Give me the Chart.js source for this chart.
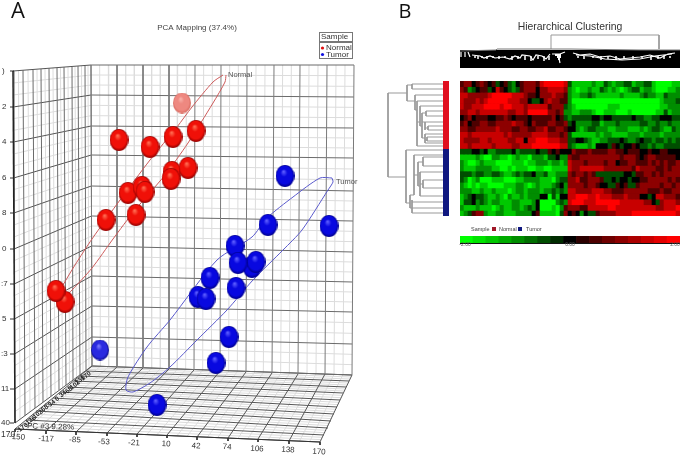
<!DOCTYPE html>
<html><head><meta charset="utf-8">
<script src="https://cdn.jsdelivr.net/npm/chart.js@4"></script>
<style>
html,body{margin:0;padding:0;background:#fff;width:689px;height:459px;overflow:hidden}
canvas{position:absolute;display:block}
#pca{left:0;top:0;filter:blur(0.3px)}
#heat{left:460px;top:81px;filter:blur(0.6px)}
#bar{left:460px;top:236px}
#right{left:380px;top:0}
</style></head><body>
<canvas id="pca" width="380" height="459"></canvas>
<canvas id="heat" width="220" height="135"></canvas>
<canvas id="bar" width="220" height="7"></canvas>
<canvas id="right" width="309" height="459"></canvas>
<script>
/* ---------- Panel A: PCA samples ---------- */
const normalX=[182,128,119,150,172,173,196,188,171,142,145,136,106,65,56];
const normalY=[103,193,140,147,172,137,131,168,179,187,192,215,220,302,291];
const tumorX=[100,157,216,229,198,206,236,210,235,252,256,238,268,329,285];
const tumorY=[350,405,363,337,297,299,288,278,246,267,262,263,225,226,176];
const normalRingX=[223,213,192,177,150,120,92,75,63,56,60,72,92,113,135,165,188,213,225,226];
const normalRingY=[75,82,107,127,160,200,239,265,285,298,301,290,268,239,210,175,143,103,82,75];
const tumorRingX=[332,320,293,267,252,217,170,147,128,126,133,150,170,197,227,253,283,302,328,333,332];
const tumorRingY=[178,178,197,218,237,260,320,347,377,390,392,383,367,340,310,280,250,230,190,182,178];

/* ---------- Panel A: frame of the 3D box ---------- */
const backTopX=[91,117,143,169,195,221,247,274,300,327,354];
const backBotX=[92,117,143,169,194,220,246,272,298,325,352];
const backBotY=[366,367,368,369,370,371,372,373,374,374,375];
const backLeftY=[65,95,126,155,186,216,246,276,306,337,366];
const backRightY=[65,97,128,158,191,221,252,282,312,344,375];
const sideTopX=[14,23,33,41,49,57,64,72,78,85,91];
const sideTopY=[71,70,70,69,68,68,67,67,66,66,65];
const sideBotX=[15,25,35,43,51,59,66,73,80,86,92];
const sideBotY=[423,416,408,402,396,390,385,380,375,370,366];
const sideLeftY=[71,107,142,178,213,249,284,319,354,389,423];
const floorFrontX=[15,46,76,107,137,167,197,228,258,289,320];
const floorFrontY=[429,431,432,433,434,435,437,438,439,441,442];
const floorLeftX=[92,86,80,74,67,60,53,45,36,26,15];
const floorLeftY=[366,371,376,381,387,392,398,404,411,420,429];
const floorRightX=[352,349,346,343,340,337,334,331,328,324,320];
const floorRightY=[375,381,387,393,400,407,414,421,428,435,442];

const xTickLabels=['-150','-117','-85','-53','-21','10','42','74','106','138','170'];
const xTickLabelX=[17,46,75,104,134,166,196,227,257,288,319];
const xTickLabelY=[437,439,440,442,443,444,446,447,449,450,452];
const yTickLabels=[')','2','4','6','8','0',':7','5',':3','11','40'];
const depthLabels=['-170','-136','-102','-68','-34','0','34','68','102','136','170'];
const depthX=[22,30,37,44,51,57,63,69,75,80,86];
const depthY=[428,421,415,409,404,399,394,390,385,380,376];

/* ---------- Panel B: heat map (digit d = value -2 + d/2), rows by samples ---------- */
const heatRows=[
"56645 65453 45324 56665 78888 87 31111 12113 21223 31223 31000 011",
"65234 55347 54323 56664 66777 76 21011 21132 12101 23312 21000 112",
"77666 66788 88877 76554 66676 65 21122 32111 11121 11123 22113 222",
"76667 67888 88777 66433 46766 55 20000 00000 00000 00000 00012 223",
"76677 78888 78877 76777 77566 63 21000 00000 11100 00000 00011 222",
"66776 77777 77667 76888 88665 62 21122 21001 11000 10000 00113 122",
"45645 55445 56545 55455 55564 53 23333 34434 43333 34332 23344 433",
"56455 66556 66676 65465 55665 56 34222 23312 22322 22233 22322 322",
"66556 66667 66655 66556 67556 65 44212 33222 11222 11121 23321 132",
"77677 77777 76766 66677 77666 56 31111 11212 21111 22212 22212 222",
"76666 77677 77667 74778 88777 66 33443 21122 33343 22343 32332 323",
"77677 77767 77766 77788 88888 77 32111 21444 35434 45433 23223 333",
"33344 34223 33342 33334 33545 44 46555 65555 66554 55544 54455 444",
"11112 10022 11012 11022 21334 22 65566 66666 66656 66545 66555 554",
"21001 21110 00011 10112 22122 12 76665 66665 66455 66555 65656 556",
"21112 22211 00101 11001 10011 11 76677 77776 66666 65766 66556 566",
"33323 32233 21123 23342 23112 22 65665 65333 33334 43556 65656 666",
"32012 00011 10001 12222 11102 33 66755 66653 34344 34455 66666 565",
"21010 11000 01112 21012 11123 42 66665 66544 33545 33566 66656 656",
"22211 21121 11012 21222 12232 32 77666 67776 65556 66666 55565 566",
"12343 32112 10211 21222 44031 44 77888 77877 76667 66644 34776 665",
"13342 32122 11122 11124 00002 32 78887 77888 88877 77776 64367 776",
"21112 11101 21122 12324 00010 25 66655 77777 88777 77777 77667 778",
"12356 62112 21112 22245 11110 36 45424 33566 66777 78888 88888 887"
];
const colorbarValues=[-2,-1.75,-1.5,-1.25,-1,-0.75,-0.5,-0.25,0,0.25,0.5,0.75,1,1.25,1.5,1.75,2];

/* ---------- Panel B: dendrograms ---------- */
const sideTreeX=[407,388,388,406,null,412,407,407,415,null,443,412,412,443,null,443,415,415,417,null,443,417,417,443,null,417,420,null,443,420,420,422,null,422,422,null,422,426,null,443,426,426,443,null,422,425,null,425,425,null,443,425,null,425,428,null,443,428,428,443,null,422,425,null,443,425,425,443,null,425,427,null,443,427,427,443];
const sideTreeY=[93,93,177,177,null,85,85,101,101,null,84,84,89,89,null,95,95,110,110,null,101,101,146,146,null,122,122,null,106,106,126,126,null,113,138,null,113,113,null,111,111,116,116,null,122,122,null,122,130,null,122,122,null,128,128,null,126,126,130,130,null,138,138,null,134,134,143,143,null,140,140,null,137,137,141,141];
const tumorTreeX=[443,406,406,410,null,443,414,414,410,410,443,null,414,418,null,418,418,null,418,423,null,443,423,423,443,null,418,420,null,420,420,null,443,420,null,420,423,null,443,423,423,443,null,420,443,null,412,412,null,412,443,null,412,443];
const tumorTreeY=[150,150,203,203,null,155,155,195,195,208,208,null,175,175,null,162,186,null,162,162,null,157,157,166,166,null,186,186,null,172,196,null,172,172,null,184,184,null,180,180,188,188,null,196,196,null,200,213,null,202,202,null,213,213];
const topTreeX=[551,551,659,659];
const topTreeY=[49,35,35,49];
const topEdgeX=[460,496,497,571,null,571,640,680];
const topEdgeY=[51,50,49,49,null,49,50,50];
const topWhiteX=[461,461,null,465,465,null,468,470,null,472,480,484,490,495,503,510,515,520,522,530,533,536,542,546,550,null,552,560,565,null,558,560,null,573,580,590,600,610,620,630,640,650,660,668,675,null,576,590,605,622,640,655,672];
const topWhiteY=[52,57,null,52,57,null,52,57,null,55,56,58,56,58,57,59,56,58,55,56,60,55,56,59,54,null,54,54,52,null,54,63,null,53,55,54,57,56,59,58,57,55,58,54,53,null,55,56,59,60,59,56,54];
const topDripX=[475,478,482,487,493,499,505,512,518,525,531,538,544,549,578,584,593,601,608,616,624,633,642,651,658,664,670];
const topDripLen=[2,3,2,3,2,3,2,4,3,4,5,3,5,4,2,3,2,4,3,4,3,3,2,4,3,3,2];

const pts=(xs,ys)=>xs.map((x,i)=>({x:x,y:ys[i]}));
function segs(list){const o=[];list.forEach(s=>{if(o.length)o.push({x:null,y:null});o.push({x:s[0],y:s[1]},{x:s[2],y:s[3]});});return o;}
const lerp=(a,b,t)=>a+(b-a)*t;

function sphere(w,h,hi,mid,edge){
  const c=document.createElement('canvas');c.width=w;c.height=h;
  const g=c.getContext('2d');
  g.translate(w/2,h/2);g.scale(1,h/w);
  const r=w/2;
  const f=g.createRadialGradient(-r*.15,-r*.4,r*.05,0,0,r);
  f.addColorStop(0,hi);f.addColorStop(.32,mid);f.addColorStop(.78,mid);f.addColorStop(1,edge);
  g.fillStyle=f;g.beginPath();g.arc(0,0,r,0,Math.PI*2);g.fill();
  return c;
}
const redBall=sphere(19,22,'#ff6a50','#f01008','#900000');
const paleBall=sphere(18,21,'#f8b0a8','#ee8880','#d86a60');
const blueBall=sphere(19,22,'#5a5aff','#0808e0','#00008c');
const softBlue=sphere(18,21,'#7a7aff','#2a2ae0','#101090');

function major(a,b){return segs(a.map((_,i)=>[a[i][0],a[i][1],b[i][0],b[i][1]]));}
function minor(a,b,n){const l=[];for(let i=0;i<a.length-1;i++)for(let k=1;k<n;k++){const t=k/n;
  l.push([lerp(a[i][0],a[i+1][0],t),lerp(a[i][1],a[i+1][1],t),lerp(b[i][0],b[i+1][0],t),lerp(b[i][1],b[i+1][1],t)]);}
  return segs(l);}
const backTop=backTopX.map(x=>[x,65]), backBot=pts(backBotX,backBotY).map(p=>[p.x,p.y]);
const backL=backLeftY.map((y,i)=>[lerp(91,92,i/10),y]), backR=backRightY.map((y,i)=>[lerp(354,352,i/10),y]);
const sideTop=pts(sideTopX,sideTopY).map(p=>[p.x,p.y]), sideBot=pts(sideBotX,sideBotY).map(p=>[p.x,p.y]);
const sideL=sideLeftY.map((y,i)=>[lerp(13,15,i/10),y]);
const floorF=pts(floorFrontX,floorFrontY).map(p=>[p.x,p.y]);
const floorL=pts(floorLeftX,floorLeftY).map(p=>[p.x,p.y]), floorR=pts(floorRightX,floorRightY).map(p=>[p.x,p.y]);

const LIGHT='#dcdcdc', DARK='#6a6a6a';
const ln=(data,color,w,order,extra)=>Object.assign({type:'scatter',data:data,showLine:true,borderColor:color,borderWidth:w,pointRadius:0,spanGaps:false,order:order,borderCapStyle:'butt'},extra||{});

function texts(list,panels){return {id:'txt',afterDraw(c){
  const g=c.ctx,X=c.scales.x,Y=c.scales.y;g.save();
  if(panels)panels(g,X,Y);
  list.forEach(t=>{g.save();g.translate(X.getPixelForValue(t.x),Y.getPixelForValue(t.y));
    if(t.r)g.rotate(t.r*Math.PI/180);
    g.font=t.f;g.fillStyle=t.c||'#333';g.textAlign=t.a||'left';g.textBaseline='middle';g.fillText(t.t,0,0);g.restore();});
  g.restore();}};}
const F='"Liberation Sans",Arial,sans-serif';

const pcaText=[
 {t:'A',x:18,y:12,f:'22px "Open Sans",sans-serif',c:'#111',a:'center'},
 {t:'PCA Mapping (37.4%)',x:197,y:28,f:'8px '+F,a:'center',c:'#444'},
 {t:'Sample',x:321,y:36.5,f:'8px '+F,c:'#333'},
 {t:'Normal',x:326,y:47.5,f:'8px '+F,c:'#333'},
 {t:'Tumor',x:326,y:54.5,f:'8px '+F,c:'#333'},
 {t:'Normal',x:228,y:75,f:'7.5px '+F,c:'#555'},
 {t:'Tumor',x:336,y:182,f:'7.5px '+F,c:'#555'},
 {t:'PC #3 9.28%',x:27,y:426,f:'8px '+F,c:'#333',r:2},
 {t:'170',x:1,y:435,f:'8.5px '+F,c:'#333'}
];
xTickLabels.forEach((t,i)=>pcaText.push({t:t,x:xTickLabelX[i],y:xTickLabelY[i],f:'8px '+F,a:'center',c:'#333',r:3}));
yTickLabels.forEach((t,i)=>pcaText.push({t:t,x:t.length>1?1:2,y:sideLeftY[i],f:'8px '+F,c:'#333'}));
depthLabels.forEach((t,i)=>pcaText.push({t:t,x:depthX[i],y:depthY[i],f:'bold 6.5px '+F,a:'center',c:'#222',r:-38}));

const legendBoxes=(g,X,Y)=>{
  g.fillStyle='#fff';g.strokeStyle='#777';g.lineWidth=1;
  g.strokeRect(319.5,32.5,33,9);g.fillRect(319.5,42.5,33,16);g.strokeRect(319.5,42.5,33,16);
  g.fillStyle='#e01010';g.beginPath();g.arc(322.5,48,1.6,0,7);g.fill();
  g.fillStyle='#1010e0';g.beginPath();g.arc(322.5,54.5,1.6,0,7);g.fill();
};

new Chart(document.getElementById('pca'),{
 type:'scatter',
 data:{datasets:[
  ln(minor(backTop,backBot,3),LIGHT,1,30),
  ln(minor(backL,backR,3),LIGHT,1,30),
  ln(minor(sideTop,sideBot,2),LIGHT,1,30),
  ln(minor(sideL,backL,3),LIGHT,1,30),
  ln(minor(floorL,floorR,3),LIGHT,1,30),
  ln(minor(backBot,floorF,3),LIGHT,1,30),
  ln(major(backTop,backBot),'#7a7a7a',1,20),
  ln(major(backL,backR),DARK,1,20),
  ln(major(sideTop,sideBot),DARK,1,20),
  ln(major(sideL,backL),'#555',1,20),
  ln(major(floorL,floorR),'#555',1,20),
  ln(major(backBot,floorF),'#555',1,20),
  ln(segs([[13,71,15,423]]),'#222',1.5,15),
  ln(segs(floorFrontX.map((x,i)=>[x,floorFrontY[i],x,floorFrontY[i]+3])),'#333',1,15),
  ln(segs(sideLeftY.map((y,i)=>[10,y,14,y])),'#333',1,15),
  ln(segs([[15,429,320,442]]),'#333',1,15),
  ln(pts(normalRingX,normalRingY),'#cc5a5a',1,5,{tension:.25}),
  ln(pts(tumorRingX,tumorRingY),'#5a5acc',1,5,{tension:.25}),
  {label:'Normal',data:pts(normalX,normalY),order:2,pointRadius:10,
   pointStyle:normalX.map((_,i)=>i===0?paleBall:redBall)},
  {label:'Tumor',data:pts(tumorX,tumorY),order:1,pointRadius:10,
   pointStyle:tumorX.map((_,i)=>i===0?softBlue:blueBall)}
 ]},
 options:{responsive:false,animation:false,events:[],devicePixelRatio:1,clip:false,
  layout:{padding:0,autoPadding:false},
  plugins:{legend:{display:false},tooltip:{enabled:false}},
  scales:{x:{type:'linear',min:0,max:380,display:false},y:{type:'linear',min:0,max:459,reverse:true,display:false}}},
 plugins:[texts(pcaText,legendBoxes)]
});

/* heat map */
function heatColor(v){const t=Math.max(-1,Math.min(1,v/2));
  const k=Math.round(Math.pow(Math.abs(t),.85)*255);
  return t<0?`rgb(0,${k},0)`:`rgb(${k},0,0)`;}
const matrix=heatRows.map(r=>r.replace(/ /g,'').split('').map(d=>-2+(+d)/2));
const colLabels=matrix[0].map((_,i)=>'G'+(i+1));
const sampleNames=matrix.map((_,i)=>(i<12?'Normal ':'Tumor ')+(i+1));
new Chart(document.getElementById('heat'),{
 type:'bar',
 data:{labels:colLabels,datasets:matrix.map((row,i)=>({label:sampleNames[i],data:row.map(()=>1),
   backgroundColor:row.map(heatColor),borderWidth:0,barPercentage:1,categoryPercentage:1}))},
 options:{responsive:false,animation:false,events:[],devicePixelRatio:1,layout:{padding:0,autoPadding:false},
  plugins:{legend:{display:false},tooltip:{enabled:false}},
  scales:{x:{stacked:true,display:false},y:{stacked:true,display:false,min:0,max:24,reverse:true}}},
 plugins:[{id:'bg',beforeDatasetsDraw(c){const a=c.chartArea;c.ctx.fillStyle='#200';c.ctx.fillRect(a.left,a.top,a.right-a.left,a.bottom-a.top);}}]
});
new Chart(document.getElementById('bar'),{
 type:'bar',
 data:{labels:colorbarValues.map(String),datasets:[{label:'scale',data:colorbarValues.map(()=>1),
   backgroundColor:colorbarValues.map(heatColor),borderWidth:0,barPercentage:1,categoryPercentage:1}]},
 options:{responsive:false,animation:false,events:[],devicePixelRatio:1,layout:{padding:0,autoPadding:false},
  plugins:{legend:{display:false},tooltip:{enabled:false}},
  scales:{x:{display:false},y:{display:false,min:0,max:1}}}
});

const rightText=[
 {t:'B',x:405,y:12,f:'20px "Open Sans",sans-serif',c:'#111',a:'center'},
 {t:'Hierarchical Clustering',x:570,y:27,f:'10.4px '+F,c:'#333',a:'center'},
 {t:'Sample',x:471,y:229,f:'5.5px '+F,c:'#444'},
 {t:'Normal',x:499,y:229,f:'5.5px '+F,c:'#444'},
 {t:'Tumor',x:526,y:229,f:'5.5px '+F,c:'#444'},
 {t:'-2.00',x:465,y:245,f:'5px '+F,c:'#555',a:'center'},
 {t:'0.00',x:570,y:245,f:'5px '+F,c:'#555',a:'center'},
 {t:'2.00',x:675,y:245,f:'5px '+F,c:'#555',a:'center'}
];
new Chart(document.getElementById('right'),{
 type:'scatter',
 data:{datasets:[
  ln(pts(topTreeX,topTreeY),'#999',1,9),
  ln(segs([[460,59,680,59]]),'#000',18,8),
  ln(pts(topEdgeX,topEdgeY),'#777',1,7),
  ln(pts(topWhiteX,topWhiteY),'#fff',1.2,6),
  ln(segs(topDripX.map((x,i)=>[x,56,x,56+topDripLen[i]])),'#ddd',1,6),
  ln(segs([[555,55,561,55],[557,57,561,57],[558,59,560,59]]),'#fff',2,6),
  ln(pts(sideTreeX,sideTreeY),'#999',1,5),
  ln(pts(tumorTreeX,tumorTreeY),'#999',1,5),
  ln(segs([[446,81,446,149]]),'#e01020',6,4),
  ln(segs([[446,149,446,216]]),'#101880',6,4),
  ln(segs([[460,243.5,680,243.5]]),'#111',1,4),
  ln(segs([[492,229,496,229]]),'#a01828',4,4),
  ln(segs([[518,229,522,229]]),'#101880',4,4)
 ]},
 options:{responsive:false,animation:false,events:[],devicePixelRatio:1,layout:{padding:0,autoPadding:false},
  plugins:{legend:{display:false},tooltip:{enabled:false}},
  scales:{x:{type:'linear',min:380,max:689,display:false},y:{type:'linear',min:0,max:459,reverse:true,display:false}}},
 plugins:[texts(rightText)]
});
</script>
</body></html>
